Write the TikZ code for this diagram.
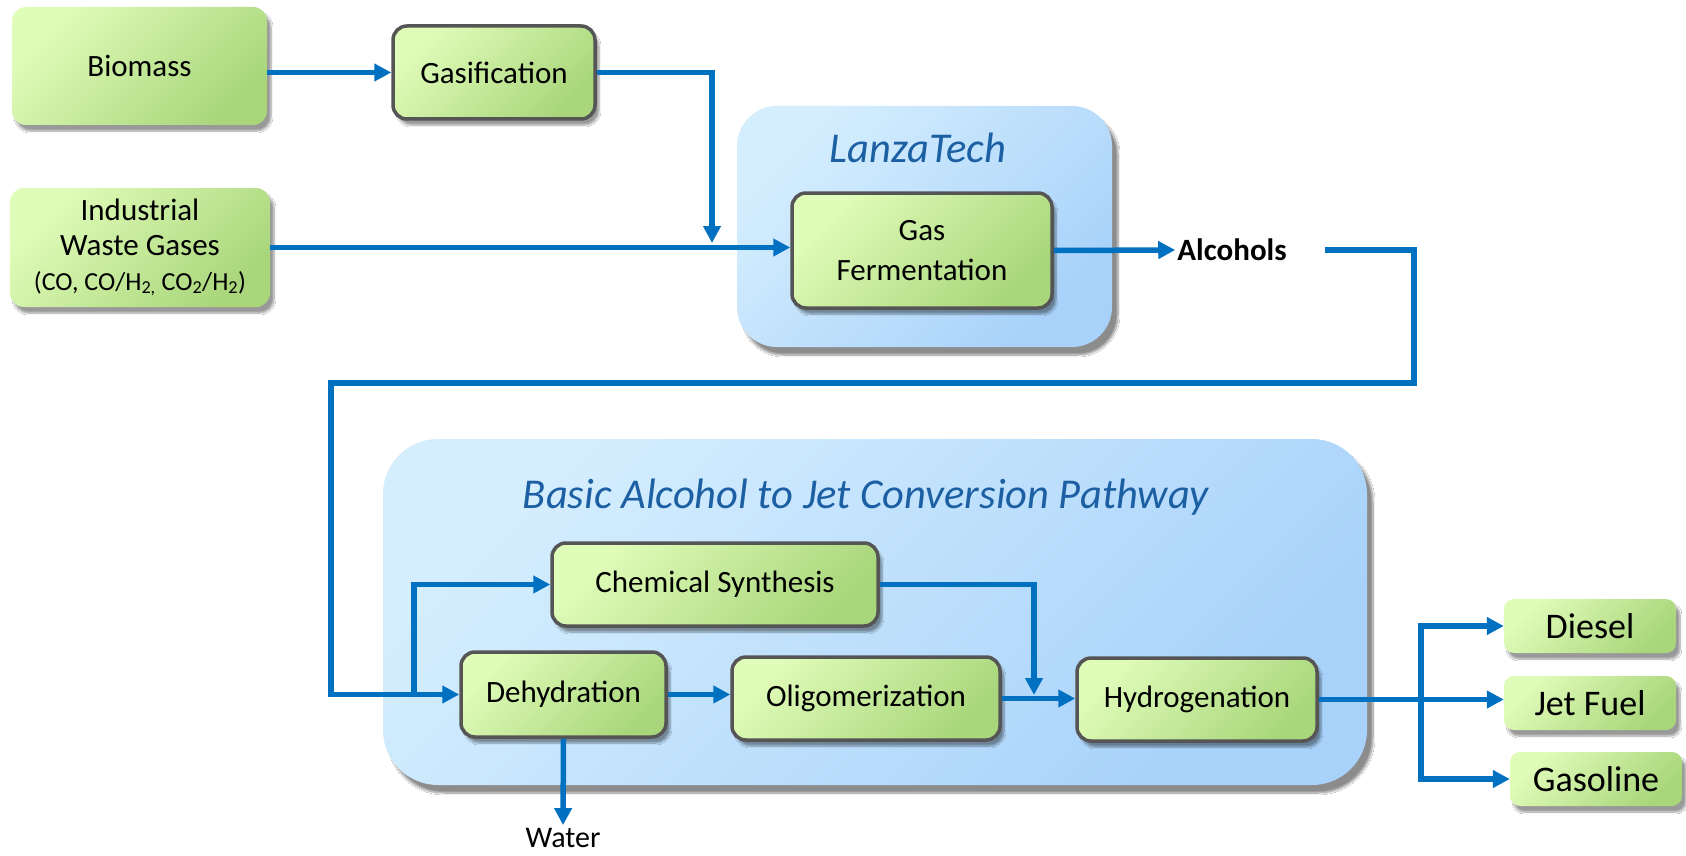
\documentclass[tikz,border=0pt]{standalone}
\usepackage{fontspec}
\setmainfont{Carlito}
\usetikzlibrary{arrows.meta,shadows.blur,calc}
\definecolor{gA}{HTML}{E0FCB9}
\definecolor{gB}{HTML}{A9D67B}
\definecolor{bA}{HTML}{D5EEFE}
\definecolor{bB}{HTML}{A8D2FA}
\definecolor{flowc}{HTML}{0070C0}
\definecolor{ttlc}{HTML}{1C5FA3}
\definecolor{brd}{HTML}{555555}
\begin{document}
\begin{tikzpicture}[x=1pt,y=-1pt,
  gbox/.style={rounded corners=14pt, top color=gA, bottom color=gB, shading angle=45,
    inner sep=0pt, align=center,
    blur shadow={shadow xshift=4pt,shadow yshift=-6pt,shadow blur steps=8,shadow opacity=40},
    font=\fontsize{31}{40}\selectfont},
  gboxb/.style={gbox, draw=brd, line width=3.5pt},
  cont/.style={rounded corners=40pt, top color=bA, bottom color=bB, shading angle=45,
    inner sep=0pt,
    blur shadow={shadow xshift=6pt,shadow yshift=-8pt,shadow blur steps=10,shadow opacity=45}},
  ttl/.style={text=ttlc, font=\itshape\fontsize{42.5}{48}\selectfont, inner sep=0pt},
  flow/.style={draw=flowc, line width=5.5pt, -{Triangle[length=17pt,width=17pt]}},
  outbox/.style={gbox, font=\fontsize{36}{40}\selectfont, minimum width=172pt, minimum height=54pt, rounded corners=10pt}
]
\useasboundingbox (0,0) rectangle (1686,856);
\fill[white] (0,0) rectangle (1686,856);

% containers
\node[cont, minimum width=375pt, minimum height=241pt] (lz) at (924.5,226.5) {};
\node[ttl] (lzt) at (918,148) {LanzaTech};
\node[cont, minimum width=984pt, minimum height=346pt, rounded corners=55pt] (bc) at (875,612) {};
\node[ttl] (bct) at (866,497) {Basic Alcohol to Jet Conversion Pathway};

% boxes
\node[gbox, minimum width=255pt, minimum height=118pt] (bio) at (139.5,66) {Biomass};
\node[gboxb, minimum width=202pt, minimum height=93pt] (gas) at (494,72.5) {Gasification};
\node[gbox, minimum width=260pt, minimum height=119pt, font=\fontsize{31}{35}\selectfont] (ind) at (140,247.5)
  {Industrial\\ Waste Gases\\ {\fontsize{26}{35}\selectfont (CO, CO/H\textsubscript{2,} CO\textsubscript{2}/H\textsubscript{2})}};
\node[gboxb, minimum width=260pt, minimum height=115pt] (ferm) at (922,250.5) {Gas\\Fermentation};
\node[font=\bfseries\fontsize{31}{36}\selectfont, inner sep=2pt] (alc) at (1232,250) {Alcohols};

\node[gboxb, minimum width=326pt, minimum height=83pt] (chem) at (715,584.5) {Chemical Synthesis};
\node[gboxb, minimum width=205pt, minimum height=85pt] (dehyd) at (563.5,694.5) {Dehydration};
\node[gboxb, minimum width=268pt, minimum height=83pt] (olig) at (866,698.5) {Oligomerization};
\node[gboxb, minimum width=240pt, minimum height=83pt] (hydro) at (1197,699.5) {Hydrogenation};
\node[font=\fontsize{30}{34}\selectfont, inner sep=3pt] (water) at (563,838) {Water};

\node[outbox] (diesel) at (1590,626) {Diesel};
\node[outbox] (jet) at (1590,703) {Jet Fuel};
\node[outbox] (gasoline) at (1596,779) {Gasoline};

% coordinates
\coordinate (j1) at (712,243);
\coordinate (r1) at (1414,383);
\coordinate (l1) at (331,383);
\coordinate (b1) at (414,694.5);
\coordinate (j2) at (1034,695);
\coordinate (b2) at (1421,699.5);

% connectors
\draw[flow] (bio.east |- gas.west) -- (gas.west);
\draw[flow] (gas.east) -| (j1);
\draw[flow] (ind.east) -- (ind.east -| ferm.west);
\draw[flow] (ferm.east) -- (alc.west);
\draw[flow] ([xshift=36pt]alc.east) -| (r1) -- (l1) |- (dehyd.west);
\draw[flow] (b1) |- (chem.west);
\draw[flow] (dehyd.east) -- (dehyd.east -| olig.west);
\draw[flow] (dehyd.south) -- (water.north);
\draw[flow] (olig.east) -- (olig.east -| hydro.west);
\draw[flow] (chem.east) -| (j2);
\draw[flow] (hydro.east) -- (hydro.east -| jet.west);
\draw[flow] (b2) |- (diesel.west);
\draw[flow] (b2) |- (gasoline.west);
\end{tikzpicture}
\end{document}
